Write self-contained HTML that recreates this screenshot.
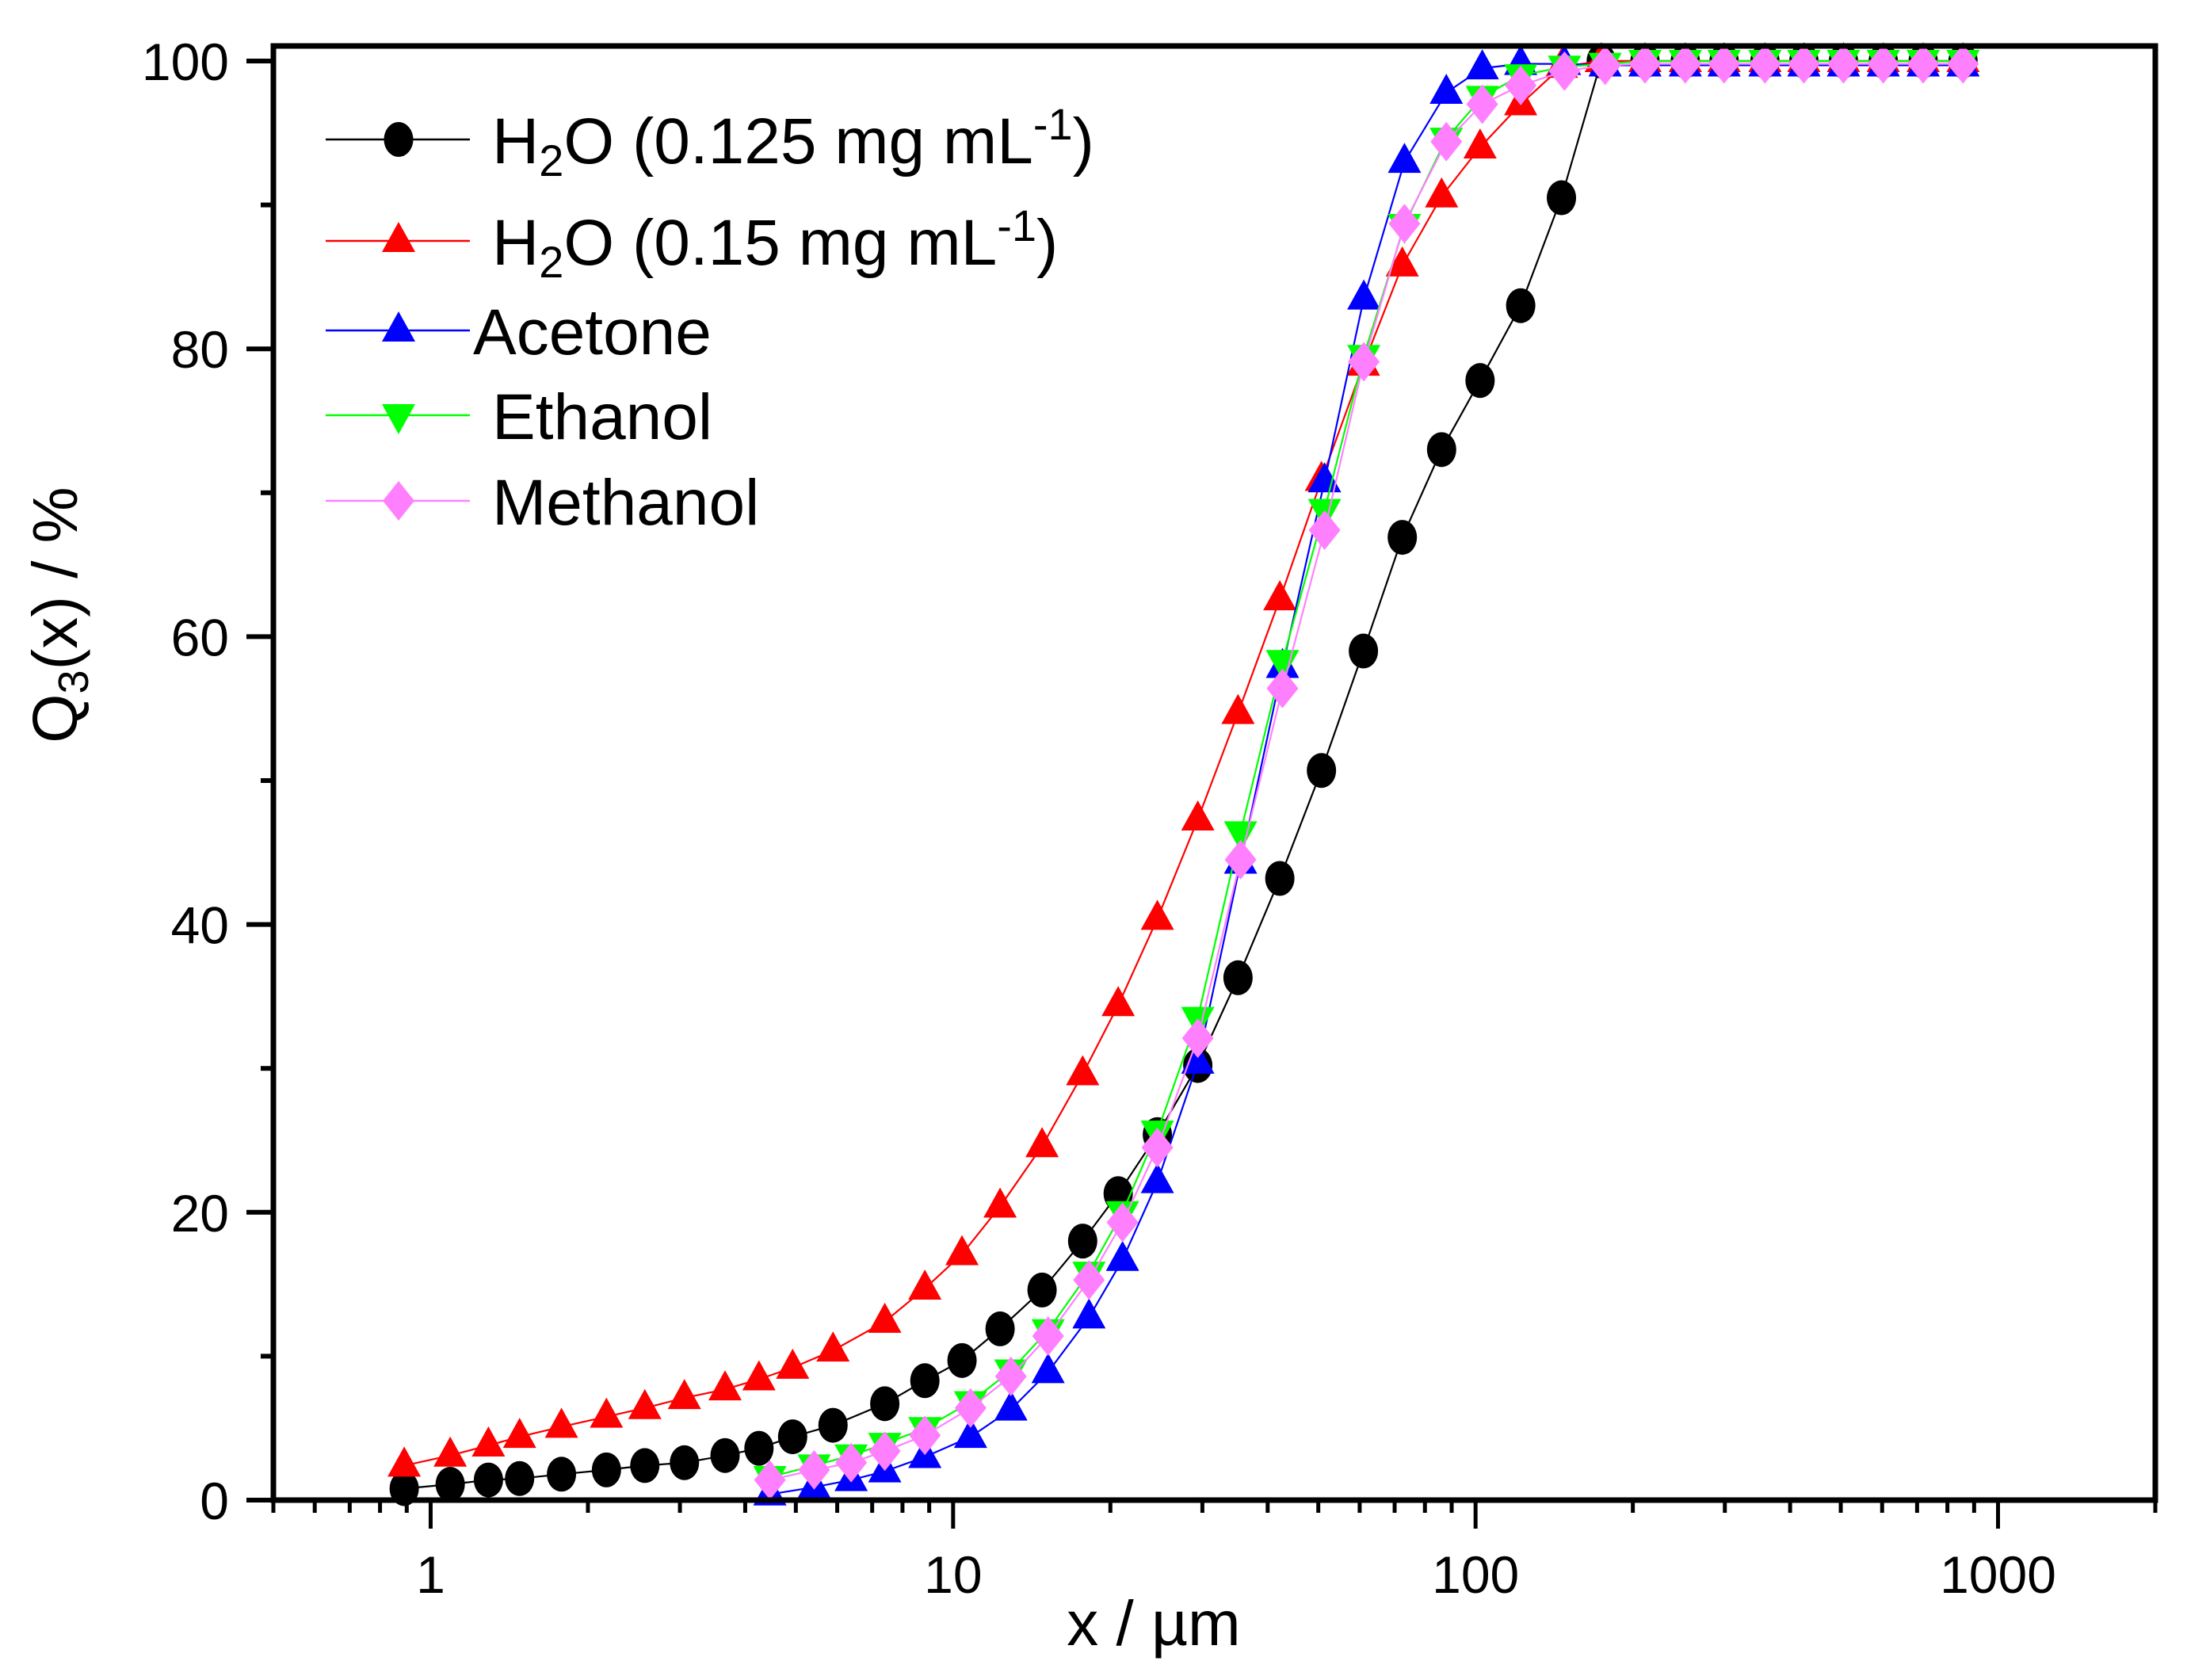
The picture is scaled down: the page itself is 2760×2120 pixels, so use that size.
<!DOCTYPE html>
<html><head><meta charset="utf-8"><style>
html,body{margin:0;padding:0;background:#fff;}
svg{display:block;font-family:"Liberation Sans",Arial,sans-serif;}
</style></head><body>
<svg id="chart" width="2760" height="2120" viewBox="0 0 2760 2120" xmlns="http://www.w3.org/2000/svg">
<rect width="2760" height="2120" fill="#fff"/>
<g id="series"></g>
<g id="axes"></g>
<g id="legend"></g>
<text transform="translate(97,776) rotate(-90)" text-anchor="middle" font-size="80">Q<tspan font-size="54" dy="14">3</tspan><tspan dy="-14">(x) / %</tspan></text>
<text x="1456" y="2076" text-anchor="middle" font-size="80">x / µm</text>
</svg>
<script>
// ---- data ----
const xWater = [0.89,1.09,1.29,1.48,1.78,2.17,2.57,3.06,3.66,4.25,4.93,5.89,7.40,8.83,10.4,12.3,14.8,17.7,20.7,24.6,29.4,35.1,42.2,50.7,61.0,72.4,86.1,102,122,146,174,211,252,299,358,425,506,603,719,857];
const h2o125 = [0.8,1.1,1.4,1.5,1.8,2.1,2.4,2.6,3.1,3.6,4.4,5.2,6.7,8.3,9.7,11.9,14.6,18.0,21.3,25.4,30.2,36.3,43.2,50.7,59.0,66.9,73.0,77.8,83.0,90.5,100,100,100,100,100,100,100,100,100,100];
const h2o15 = [2.4,3.1,3.8,4.4,5.1,5.8,6.4,7.1,7.7,8.4,9.2,10.4,12.4,14.7,17.1,20.4,24.6,29.6,34.4,40.4,47.3,54.7,62.6,70.9,78.9,85.8,90.6,94.0,97.0,99.6,100,100,100,100,100,100,100,100,100,100];
const xSolvent = [4.46,5.42,6.38,7.40,8.83,10.8,12.9,15.2,18.2,21.1,24.6,29.4,35.5,42.7,51.4,61.1,73.1,87.9,103,122,148,177,211,252,299,358,425,506,603,719,857];
const acetone = [0.4,0.9,1.4,2.0,3.0,4.4,6.3,8.9,12.7,16.7,22.1,30.4,44.3,57.9,70.8,83.5,93.0,97.8,99.5,99.8,99.8,99.7,99.7,99.7,99.7,99.7,99.7,99.7,99.7,99.7,99.7];
const ethanol = [1.6,2.4,3.1,3.9,5.0,6.8,9.0,11.8,15.8,20.0,25.6,33.5,46.4,58.3,68.8,79.5,88.6,94.6,97.5,99.0,99.6,99.8,100,100,100,100,100,100,100,100,100];
const methanol = [1.4,2.1,2.6,3.4,4.5,6.4,8.6,11.4,15.3,19.3,24.5,32.1,44.5,56.4,67.4,79.1,88.7,94.4,97.0,98.3,99.3,99.7,99.8,99.8,99.8,99.8,99.8,99.8,99.8,99.8,99.8];
const yTicks = [0,20,40,60,80,100];
const xTickLabels = ["1","10","100","1000"];
const xTickValues = [1,10,100,1000];

// ---- axes functions ----
const L=345,R=2720,T=58,B=1893, XMIN=0.5, XMAX=2000;
const y0=1893, yPer=18.16;
function sx(v){return L+(Math.log10(v)-Math.log10(XMIN))/(Math.log10(XMAX)-Math.log10(XMIN))*(R-L);}
function sy(v){return y0-v*yPer;}
const NS="http://www.w3.org/2000/svg";
function mk(tag,attrs,parent){const e=document.createElementNS(NS,tag);for(const k in attrs)e.setAttribute(k,attrs[k]);parent.appendChild(e);return e;}

const series=[
 {name:"h2o-0125",xs:xWater,ys:h2o125,color:"#000",shape:"circle"},
 {name:"h2o-015",xs:xWater,ys:h2o15,color:"#ff0000",shape:"up"},
 {name:"acetone",xs:xSolvent,ys:acetone,color:"#0000ff",shape:"up"},
 {name:"ethanol",xs:xSolvent,ys:ethanol,color:"#00ff00",shape:"down"},
 {name:"methanol",xs:xSolvent,ys:methanol,color:"#ff80ff",shape:"diamond"}
];
function marker(shape,cx,cy,color,parent){
  let e;
  if(shape==="circle"){e=mk("ellipse",{cx:cx,cy:cy,rx:18.5,ry:22,fill:color},parent);}
  else if(shape==="up"){e=mk("polygon",{points:`${cx},${cy-24} ${cx+21},${cy+14} ${cx-21},${cy+14}`,fill:color},parent);}
  else if(shape==="down"){e=mk("polygon",{points:`${cx},${cy+24} ${cx+21},${cy-14} ${cx-21},${cy-14}`,fill:color},parent);}
  else {e=mk("polygon",{points:`${cx},${cy-25} ${cx+20},${cy} ${cx},${cy+25} ${cx-20},${cy}`,fill:color},parent);}
  return e;
}
const sg=document.getElementById("series");
series.forEach(s=>{
  const g=mk("g",{},sg);
  
  
  const pts=s.xs.map((x,i)=>sx(x).toFixed(1)+","+sy(s.ys[i]).toFixed(1)).join(" ");
  const ln=mk("polyline",{points:pts,fill:"none",stroke:s.color,"stroke-width":2.2},g);
  
  
  s.xs.forEach((x,i)=>{
    const m=marker(s.shape,sx(x),sy(s.ys[i]),s.color,g);
    
    
  });
});

// axes
const ag=document.getElementById("axes");
const frame=mk("rect",{x:L,y:T,width:R-L,height:B-T,fill:"none",stroke:"#000","stroke-width":7},ag);


for(let v=0;v<=100;v+=10){
  const major=v%20===0;
  const t=mk("line",{x1:L-(major?34:16),x2:L,y1:sy(v),y2:sy(v),stroke:"#000","stroke-width":6},ag);
  
  
}
yTicks.forEach(v=>{
  const t=mk("text",{x:289,y:sy(v)+24,"text-anchor":"end","font-size":66},ag);
  t.textContent=String(v);
  
  
});
for(let d=-1;d<=3;d++){
  for(let k=1;k<=9;k++){
    const v=k*Math.pow(10,d);
    if(v<XMIN||v>XMAX)continue;
    const major=k===1;
    const t=mk("line",{x1:sx(v),x2:sx(v),y1:B,y2:B+(major?36:16),stroke:"#000","stroke-width":5},ag);
    
    
  }
}
xTickValues.forEach((v,i)=>{
  const t=mk("text",{x:sx(v),y:2010,"text-anchor":"middle","font-size":66},ag);
  t.textContent=xTickLabels[i];
  
  
});

// legend
const lg=document.getElementById("legend");
const legendRows=[
  {s:0,y:176,tx:621,label:'H<tspan font-size="56" dy="16">2</tspan><tspan dy="-16">O (0.125 mg mL</tspan><tspan font-size="56" dy="-30">-1</tspan><tspan dy="30">)</tspan>'},
  {s:1,y:304,tx:621,label:'H<tspan font-size="56" dy="16">2</tspan><tspan dy="-16">O (0.15 mg mL</tspan><tspan font-size="56" dy="-30">-1</tspan><tspan dy="30">)</tspan>'},
  {s:2,y:417,tx:597,label:'Acetone'},
  {s:3,y:524,tx:621,label:'Ethanol'},
  {s:4,y:632,tx:621,label:'Methanol'}
];
legendRows.forEach(r=>{
  const s=series[r.s];
  const g=mk("g",{},lg);
  
  
  mk("line",{x1:411,x2:593,y1:r.y,y2:r.y,stroke:s.color,"stroke-width":2.5},g);
  marker(s.shape,503,r.y,s.color,g);
  const t=mk("text",{x:r.tx,y:r.y+30,"font-size":82},g);
  t.innerHTML=r.label;
});
</script>
</body></html>
